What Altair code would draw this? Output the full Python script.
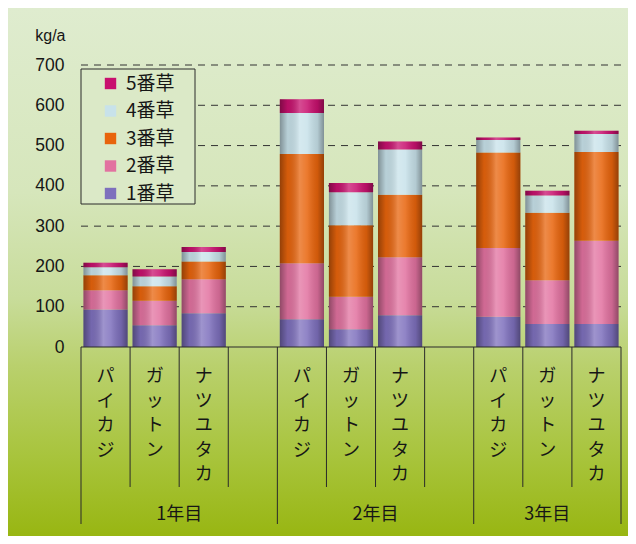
import altair as alt
import pandas as pd

groups = ["1年目", "2年目", "3年目"]
varieties = ["パイカジ", "ガットン", "ナツユタカ"]
cuts = ["1番草", "2番草", "3番草", "4番草", "5番草"]

# values per cut, order: (1年目: パイカジ, ガットン, ナツユタカ), (2年目 ...), (3年目 ...)
cut1 = [93, 54, 84, 69, 44, 79, 75, 57, 57]
cut2 = [48, 61, 84, 139, 81, 144, 171, 109, 207]
cut3 = [37, 36, 44, 271, 177, 155, 237, 167, 220]
cut4 = [20, 24, 24, 102, 82, 112, 31, 43, 45]
cut5 = [11, 18, 12, 34, 23, 20, 6, 12, 8]

y_ticks = [0, 100, 200, 300, 400, 500, 600, 700]

cut_colors = ["#7e70bd", "#e272a0", "#e8640c", "#c8e2ea", "#c8106e"]

JP = "Noto Sans CJK JP"
NUM = "Liberation Sans"
INK = "#161616"

# ---- tables built from the lists ----
series = [cut1, cut2, cut3, cut4, cut5]
rows = []
for ci, (cut, vals) in enumerate(zip(cuts, series)):
    k = 0
    for gi, g in enumerate(groups):
        for vi, v in enumerate(varieties):
            rows.append(dict(group=g, variety=v, slot=gi * 4 + vi, cut=cut,
                             cut_idx=ci, value=vals[k]))
            k += 1
df = pd.DataFrame(rows)

n_slots = len(groups) * 4 - 1
var_rows = []
for gi, g in enumerate(groups):
    for vi, v in enumerate(varieties):
        var_rows.append(dict(xc=gi * 4 + vi + 0.5, label="\n".join(v)))
var_df = pd.DataFrame(var_rows)

grp_df = pd.DataFrame([dict(xc=(gi * 4 + min(gi * 4 + 4, n_slots)) / 2, group=g)
                       for gi, g in enumerate(groups)])

long_b = sorted(set([gi * 4 for gi in range(len(groups))] + [n_slots]))
b_df = pd.DataFrame([dict(b=b, long=(b in long_b)) for b in range(n_slots + 1)])

grid_df = pd.DataFrame({"v": y_ticks[1:]})

W, H = 540, 282
PL, PT, PR, PB = 73, 57, 7, 189

xs = alt.Scale(domain=[0, n_slots], nice=False, zero=False)
ys = alt.Scale(domain=[0, 700], nice=False)

bg_grad = alt.Gradient(
    gradient="linear", x1=0, x2=0, y1=0, y2=1,
    stops=[
        alt.GradientStop(offset=0.0, color="#dfeccf"),
        alt.GradientStop(offset=0.35, color="#d6e6bb"),
        alt.GradientStop(offset=0.55, color="#c8dc9a"),
        alt.GradientStop(offset=0.68, color="#b9d06c"),
        alt.GradientStop(offset=0.85, color="#a8c43c"),
        alt.GradientStop(offset=1.0, color="#98b612"),
    ],
)

shade = alt.Gradient(
    gradient="linear", x1=0, x2=1, y1=0, y2=0,
    stops=[
        alt.GradientStop(offset=0.0, color="rgba(0,0,0,0.36)"),
        alt.GradientStop(offset=0.18, color="rgba(0,0,0,0.08)"),
        alt.GradientStop(offset=0.45, color="rgba(255,255,255,0.25)"),
        alt.GradientStop(offset=0.62, color="rgba(255,255,255,0.14)"),
        alt.GradientStop(offset=0.85, color="rgba(0,0,0,0.1)"),
        alt.GradientStop(offset=1.0, color="rgba(0,0,0,0.36)"),
    ],
)

one = pd.DataFrame({"a": [0]})

bg = alt.Chart(one).mark_rect(fill=bg_grad).encode(
    x=alt.value(-PL), x2=alt.value(W + PR), y=alt.value(-PT), y2=alt.value(H + PB)
)

grid = alt.Chart(grid_df).mark_rule(strokeDash=[7, 6], color="#333333", strokeWidth=1).encode(
    y=alt.Y("v:Q", scale=ys), x=alt.value(0), x2=alt.value(W + 4)
)

legend_box = alt.Chart(one).mark_rect(fill="#dbe9c7", stroke="#2a2a2a", strokeWidth=1).encode(
    x=alt.value(0), x2=alt.value(114), y=alt.value(4), y2=alt.value(139)
)

stacked = alt.Chart(df).transform_stack(
    stack="value", groupby=["slot"], sort=[alt.SortField("cut_idx", order="ascending")],
    as_=["y0", "y1"]
).transform_calculate(
    xa="datum.slot + 0.05", xb="datum.slot + 0.95"
)

y_axis = alt.Axis(
    values=y_ticks, grid=False, ticks=False, domain=False, zindex=2,
    labelFontSize=17.5, labelPadding=17, labelFont=NUM, labelColor=INK,
    title="kg/a", titleAngle=0, titleX=-16, titleY=-30, titleAlign="right",
    titleBaseline="middle", titleFontSize=16, titleFontWeight="normal",
    titleFont=NUM, titleColor=INK)

bars = stacked.mark_bar().encode(
    x=alt.X("xa:Q", scale=xs, axis=None),
    x2="xb:Q",
    y=alt.Y("y0:Q", scale=ys, axis=y_axis),
    y2="y1:Q",
    color=alt.Color("cut:N", scale=alt.Scale(domain=cuts[::-1], range=cut_colors[::-1]),
                    legend=alt.Legend(orient="none", legendX=20, legendY=9, title=None,
                                      symbolType="square", symbolSize=130,
                                      symbolStrokeWidth=0,
                                      labelFontSize=19, labelFont=JP, labelColor=INK,
                                      rowPadding=7.5, labelOffset=6, padding=0)),
)

overlay = stacked.mark_bar(fill=shade).encode(
    x=alt.X("xa:Q", scale=xs), x2="xb:Q",
    y=alt.Y("y0:Q", scale=ys, axis=y_axis), y2="y1:Q",
)

zero = alt.Chart(one).mark_rule(color="#2a2a2a", strokeWidth=1.2).encode(
    y=alt.datum(0), x=alt.value(0), x2=alt.value(W)
)

short_lines = alt.Chart(b_df).transform_filter("!datum.long").mark_rule(
    color="#2a2a2a", strokeWidth=1).encode(
    x=alt.X("b:Q", scale=xs), y=alt.value(H), y2=alt.value(422)
)
long_lines = alt.Chart(b_df).transform_filter("datum.long").mark_rule(
    color="#2a2a2a", strokeWidth=1).encode(
    x=alt.X("b:Q", scale=xs), y=alt.value(H), y2=alt.value(459)
)

var_text = alt.Chart(var_df).mark_text(
    lineBreak="\n", lineHeight=24.5, baseline="top", align="center",
    fontSize=18, font=JP, color=INK).encode(
    x=alt.X("xc:Q", scale=xs), y=alt.value(303), text="label:N"
)

grp_text = alt.Chart(grp_df).mark_text(
    baseline="middle", align="center", fontSize=18, font=JP, color=INK).encode(
    x=alt.X("xc:Q", scale=xs), y=alt.value(450), text="group:N"
)

chart = alt.layer(
    bg, grid, legend_box, bars, overlay, zero, short_lines, long_lines, var_text, grp_text
).properties(
    width=W, height=H,
    padding={"left": PL, "top": PT, "right": PR, "bottom": PB},
    autosize=alt.AutoSizeParams(type="none"),
    background="#dfeccf",
).configure_view(stroke=None)

chart.save("out.html", embed_options={"renderer": "svg", "actions": False})
